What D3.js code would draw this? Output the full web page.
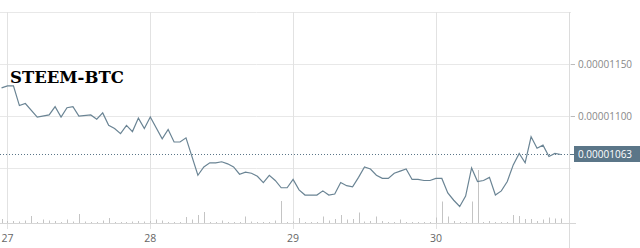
<!DOCTYPE html>
<html>
<head>
<meta charset="utf-8">
<script src="https://cdnjs.cloudflare.com/ajax/libs/d3/7.8.5/d3.min.js"></script>
<style>
  html, body { margin:0; padding:0; background:#fff; }
  svg { display:block; }
</style>
</head>
<body>
<div id="chart"></div>
<script>
// hours since the 27th 00:00
var hours = [-1,0,1,2,3,5,7,8,9,10,11,12,14,15,16,17,18,19,20,21,22,23,24,26,27,28,29,30,
  32,33,34,35,36,37,38,39,40,41,42,43,44,45,46,47,48,49,50,51,52,53,54,55,56,57,58,59,60,
  61,62,63,64,65,66,67,68,69,70,71,72,73,74,75,76,77,78,79,80,81,82,83,84,85,86,87,88,89,
  90,91,92,93];
// price, in satoshi (1e-8 BTC)
var price = [1127,1129,1129,1110,1112,1099,1101,1109,1099,1108,1109,1100,1101,1097,1103,1091,1088,1083,1091,1085,1098,1088,1099,1078,1087,1075,1075,1079,
  1043,1051,1055,1055,1056,1054,1051,1044,1046,1045,1042,1036,1043,1038,1031,1031,1039,1029,1024,1024,1024,1028,1024,1025,1036,1033,1032,1041,1051,
  1049,1043,1040,1040,1045,1047,1049,1039,1039,1038,1038,1040,1040,1026,1019,1013,1023,1050,1037,1038,1041,1024,1028,1037,1053,1064,1055,1080,1069,
  1072,1061,1064,1063];

// hourly volume, hour -1 .. 93
var volHours = d3.range(-1, 94);
var volume = [4,2,2,1.5,2.5,7,1,3.5,2.5,2,1,3.5,1.5,9,1.5,1,1,2.5,5,1,1,1,1.5,2,1.5,
  2,3.5,2.5,1,1,1,6,3.5,8,11,1,1,2.5,1,1,1,6.5,1.5,1,1,1,2.5,22,1,
  1.5,5,1,1,1,6.5,2.5,4,8,3.5,4,10.5,1.5,2,6.5,2,1,1,3.5,1,1,1,1,1,
  5.5,21.5,6.5,2,1,1,21.5,53,1,2,1,1,1,8,7,4,4,2,3.5,5.5,4.5,4.5];

var dayTicks = [0, 24, 48, 72];
var dayLabels = ["27", "28", "29", "30"];
var gridPrices = [1050, 1100, 1150, 1200];
var labelPrices = [1100, 1150];
var lastPrice = 1063;
var title = "STEEM-BTC";

var W = 640, H = 248;
var plot = {left:0, right:570, top:12, bottom:223};

var x = d3.scaleLinear().domain([-1.26, 94.54]).range([plot.left, plot.right]);
var y = d3.scaleLinear().domain([1050, 1200]).range([168, plot.top]);
var yv = d3.scaleLinear().domain([0, 53]).range([plot.bottom, 170]);
var fmt = function(v){ return d3.format(".8f")(v * 1e-8); };

var svg = d3.select("#chart").append("svg")
  .attr("width", W).attr("height", H)
  .style("font-family", "'Open Sans', sans-serif");

svg.append("defs").append("clipPath").attr("id", "plotclip")
  .append("rect").attr("x", plot.left).attr("y", plot.top)
  .attr("width", plot.right - plot.left).attr("height", plot.bottom - plot.top);

// horizontal grid
svg.append("g").selectAll("line").data(gridPrices).enter().append("line")
  .attr("x1", plot.left).attr("x2", plot.right + 1)
  .attr("y1", function(d){ return Math.round(y(d)) + 0.5; })
  .attr("y2", function(d){ return Math.round(y(d)) + 0.5; })
  .attr("stroke", "#e8e8e8").attr("stroke-width", 1);

// vertical day grid
svg.append("g").selectAll("line").data(dayTicks).enter().append("line")
  .attr("x1", function(d){ return Math.round(x(d)) + 0.5; })
  .attr("x2", function(d){ return Math.round(x(d)) + 0.5; })
  .attr("y1", plot.top).attr("y2", 229)
  .attr("stroke", "#e2e2e2").attr("stroke-width", 1);

// right border
svg.append("line")
  .attr("x1", plot.right - 0.5).attr("x2", plot.right - 0.5)
  .attr("y1", plot.top).attr("y2", H)
  .attr("stroke", "#dcdcdc");

// x axis baseline
svg.append("line")
  .attr("x1", 0).attr("x2", 576)
  .attr("y1", plot.bottom + 0.5).attr("y2", plot.bottom + 0.5)
  .attr("stroke", "#d6d6d6");

// volume bars
svg.append("g").attr("clip-path", "url(#plotclip)")
  .selectAll("line").data(volume).enter().append("line")
  .attr("x1", function(d, i){ return Math.round(x(volHours[i])) + 0.5; })
  .attr("x2", function(d, i){ return Math.round(x(volHours[i])) + 0.5; })
  .attr("y1", plot.bottom)
  .attr("y2", function(d){ return yv(d); })
  .attr("stroke", "#c4c4c4").attr("stroke-width", 1);

// x labels
svg.append("g").selectAll("text").data(dayTicks).enter().append("text")
  .attr("x", function(d){ return x(d); })
  .attr("y", 242)
  .attr("text-anchor", "middle")
  .attr("font-size", "10.5px")
  .attr("fill", "#666")
  .text(function(d, i){ return dayLabels[i]; });

// y labels + ticks
var yl = svg.append("g");
yl.selectAll("line").data(labelPrices).enter().append("line")
  .attr("x1", plot.right + 1).attr("x2", plot.right + 5)
  .attr("y1", function(d){ return Math.round(y(d)) + 0.5; })
  .attr("y2", function(d){ return Math.round(y(d)) + 0.5; })
  .attr("stroke", "#bbb");
yl.selectAll("text").data(labelPrices).enter().append("text")
  .attr("x", 578).attr("y", function(d){ return y(d); })
  .attr("dy", "0.35em")
  .attr("font-size", "10px")
  .attr("fill", "#888")
  .text(fmt);

// last price dotted line
svg.append("line")
  .attr("x1", plot.left).attr("x2", plot.right)
  .attr("y1", Math.round(y(lastPrice)) + 0.5).attr("y2", Math.round(y(lastPrice)) + 0.5)
  .attr("stroke", "#5b7688").attr("stroke-width", 1)
  .attr("stroke-dasharray", "1,2");

// price line
var line = d3.line()
  .x(function(d, i){ return x(hours[i]); })
  .y(function(d){ return y(d); });
svg.append("path")
  .datum(price)
  .attr("clip-path", "url(#plotclip)")
  .attr("fill", "none")
  .attr("stroke", "#6a8494")
  .attr("stroke-width", 1.2)
  .attr("d", line);

// last price tag
var ly = Math.round(y(lastPrice));
svg.append("line")
  .attr("x1", plot.right).attr("x2", plot.right + 5)
  .attr("y1", ly + 0.5).attr("y2", ly + 0.5)
  .attr("stroke", "#5b7688");
svg.append("rect")
  .attr("x", 574).attr("y", ly - 8)
  .attr("width", 66).attr("height", 16)
  .attr("fill", "#5b7688");
svg.append("text")
  .attr("x", 578).attr("y", ly + 0.5)
  .attr("dy", "0.35em")
  .attr("font-size", "10px")
  .attr("fill", "#fff")
  .text(fmt(lastPrice));

// title
svg.append("text")
  .attr("x", 10).attr("y", 83)
  .attr("font-family", "'DejaVu Serif', serif")
  .attr("font-weight", "bold")
  .attr("font-size", "16.5px")
  .attr("fill", "#000")
  .text(title);
</script>
</body>
</html>
